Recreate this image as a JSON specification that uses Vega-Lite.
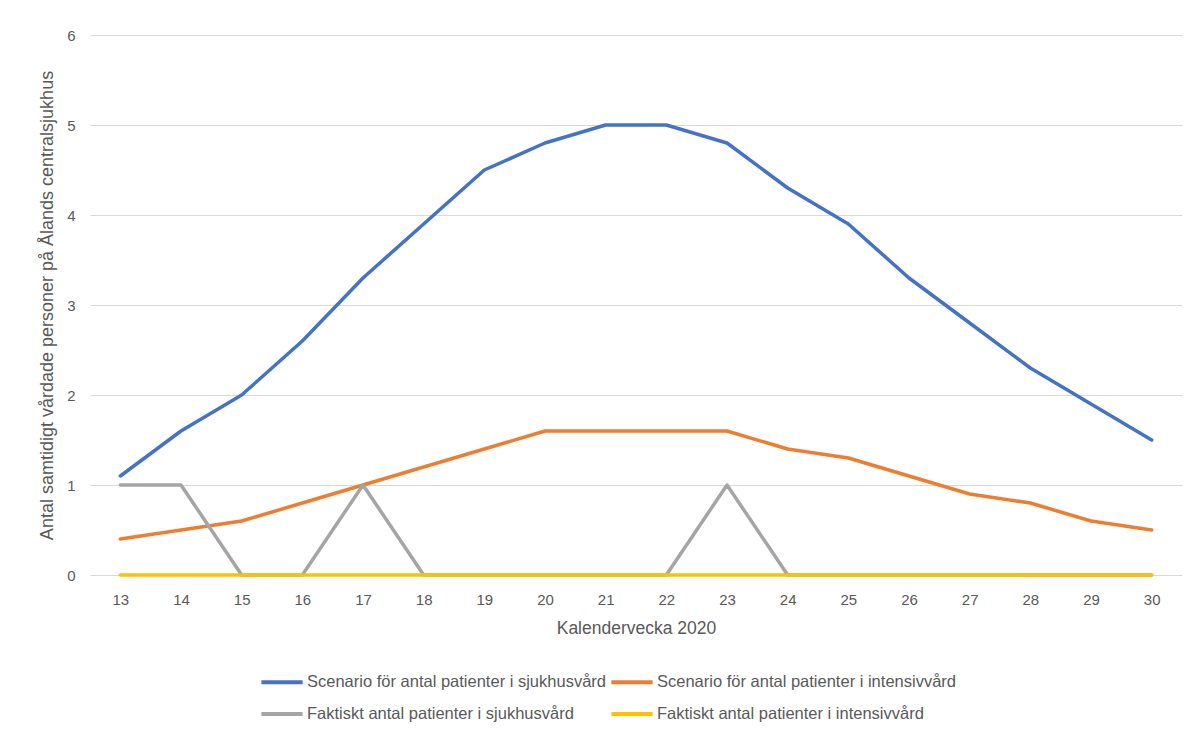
{
  "$schema": "https://vega.github.io/schema/vega-lite/v6.json",
  "width": 1092,
  "height": 540,
  "autosize": "none",
  "padding": {"left": 90, "top": 35, "right": 9, "bottom": 158},
  "background": "white",
  "config": {
    "font": "Liberation Sans",
    "view": {"stroke": null}
  },
  "data": {
    "values": [
      {"vecka": 13, "serie": "Scenario för antal patienter i sjukhusvård", "antal": 1.1},
      {"vecka": 14, "serie": "Scenario för antal patienter i sjukhusvård", "antal": 1.6},
      {"vecka": 15, "serie": "Scenario för antal patienter i sjukhusvård", "antal": 2.0},
      {"vecka": 16, "serie": "Scenario för antal patienter i sjukhusvård", "antal": 2.6},
      {"vecka": 17, "serie": "Scenario för antal patienter i sjukhusvård", "antal": 3.3},
      {"vecka": 18, "serie": "Scenario för antal patienter i sjukhusvård", "antal": 3.9},
      {"vecka": 19, "serie": "Scenario för antal patienter i sjukhusvård", "antal": 4.5},
      {"vecka": 20, "serie": "Scenario för antal patienter i sjukhusvård", "antal": 4.8},
      {"vecka": 21, "serie": "Scenario för antal patienter i sjukhusvård", "antal": 5.0},
      {"vecka": 22, "serie": "Scenario för antal patienter i sjukhusvård", "antal": 5.0},
      {"vecka": 23, "serie": "Scenario för antal patienter i sjukhusvård", "antal": 4.8},
      {"vecka": 24, "serie": "Scenario för antal patienter i sjukhusvård", "antal": 4.3},
      {"vecka": 25, "serie": "Scenario för antal patienter i sjukhusvård", "antal": 3.9},
      {"vecka": 26, "serie": "Scenario för antal patienter i sjukhusvård", "antal": 3.3},
      {"vecka": 27, "serie": "Scenario för antal patienter i sjukhusvård", "antal": 2.8},
      {"vecka": 28, "serie": "Scenario för antal patienter i sjukhusvård", "antal": 2.3},
      {"vecka": 29, "serie": "Scenario för antal patienter i sjukhusvård", "antal": 1.9},
      {"vecka": 30, "serie": "Scenario för antal patienter i sjukhusvård", "antal": 1.5},
      {"vecka": 13, "serie": "Scenario för antal patienter i intensivvård", "antal": 0.4},
      {"vecka": 14, "serie": "Scenario för antal patienter i intensivvård", "antal": 0.5},
      {"vecka": 15, "serie": "Scenario för antal patienter i intensivvård", "antal": 0.6},
      {"vecka": 16, "serie": "Scenario för antal patienter i intensivvård", "antal": 0.8},
      {"vecka": 17, "serie": "Scenario för antal patienter i intensivvård", "antal": 1.0},
      {"vecka": 18, "serie": "Scenario för antal patienter i intensivvård", "antal": 1.2},
      {"vecka": 19, "serie": "Scenario för antal patienter i intensivvård", "antal": 1.4},
      {"vecka": 20, "serie": "Scenario för antal patienter i intensivvård", "antal": 1.6},
      {"vecka": 21, "serie": "Scenario för antal patienter i intensivvård", "antal": 1.6},
      {"vecka": 22, "serie": "Scenario för antal patienter i intensivvård", "antal": 1.6},
      {"vecka": 23, "serie": "Scenario för antal patienter i intensivvård", "antal": 1.6},
      {"vecka": 24, "serie": "Scenario för antal patienter i intensivvård", "antal": 1.4},
      {"vecka": 25, "serie": "Scenario för antal patienter i intensivvård", "antal": 1.3},
      {"vecka": 26, "serie": "Scenario för antal patienter i intensivvård", "antal": 1.1},
      {"vecka": 27, "serie": "Scenario för antal patienter i intensivvård", "antal": 0.9},
      {"vecka": 28, "serie": "Scenario för antal patienter i intensivvård", "antal": 0.8},
      {"vecka": 29, "serie": "Scenario för antal patienter i intensivvård", "antal": 0.6},
      {"vecka": 30, "serie": "Scenario för antal patienter i intensivvård", "antal": 0.5},
      {"vecka": 13, "serie": "Faktiskt antal patienter i sjukhusvård", "antal": 1},
      {"vecka": 14, "serie": "Faktiskt antal patienter i sjukhusvård", "antal": 1},
      {"vecka": 15, "serie": "Faktiskt antal patienter i sjukhusvård", "antal": 0},
      {"vecka": 16, "serie": "Faktiskt antal patienter i sjukhusvård", "antal": 0},
      {"vecka": 17, "serie": "Faktiskt antal patienter i sjukhusvård", "antal": 1},
      {"vecka": 18, "serie": "Faktiskt antal patienter i sjukhusvård", "antal": 0},
      {"vecka": 19, "serie": "Faktiskt antal patienter i sjukhusvård", "antal": 0},
      {"vecka": 20, "serie": "Faktiskt antal patienter i sjukhusvård", "antal": 0},
      {"vecka": 21, "serie": "Faktiskt antal patienter i sjukhusvård", "antal": 0},
      {"vecka": 22, "serie": "Faktiskt antal patienter i sjukhusvård", "antal": 0},
      {"vecka": 23, "serie": "Faktiskt antal patienter i sjukhusvård", "antal": 1},
      {"vecka": 24, "serie": "Faktiskt antal patienter i sjukhusvård", "antal": 0},
      {"vecka": 25, "serie": "Faktiskt antal patienter i sjukhusvård", "antal": 0},
      {"vecka": 26, "serie": "Faktiskt antal patienter i sjukhusvård", "antal": 0},
      {"vecka": 27, "serie": "Faktiskt antal patienter i sjukhusvård", "antal": 0},
      {"vecka": 28, "serie": "Faktiskt antal patienter i sjukhusvård", "antal": 0},
      {"vecka": 29, "serie": "Faktiskt antal patienter i sjukhusvård", "antal": 0},
      {"vecka": 30, "serie": "Faktiskt antal patienter i sjukhusvård", "antal": 0},
      {"vecka": 13, "serie": "Faktiskt antal patienter i intensivvård", "antal": 0},
      {"vecka": 14, "serie": "Faktiskt antal patienter i intensivvård", "antal": 0},
      {"vecka": 15, "serie": "Faktiskt antal patienter i intensivvård", "antal": 0},
      {"vecka": 16, "serie": "Faktiskt antal patienter i intensivvård", "antal": 0},
      {"vecka": 17, "serie": "Faktiskt antal patienter i intensivvård", "antal": 0},
      {"vecka": 18, "serie": "Faktiskt antal patienter i intensivvård", "antal": 0},
      {"vecka": 19, "serie": "Faktiskt antal patienter i intensivvård", "antal": 0},
      {"vecka": 20, "serie": "Faktiskt antal patienter i intensivvård", "antal": 0},
      {"vecka": 21, "serie": "Faktiskt antal patienter i intensivvård", "antal": 0},
      {"vecka": 22, "serie": "Faktiskt antal patienter i intensivvård", "antal": 0},
      {"vecka": 23, "serie": "Faktiskt antal patienter i intensivvård", "antal": 0},
      {"vecka": 24, "serie": "Faktiskt antal patienter i intensivvård", "antal": 0},
      {"vecka": 25, "serie": "Faktiskt antal patienter i intensivvård", "antal": 0},
      {"vecka": 26, "serie": "Faktiskt antal patienter i intensivvård", "antal": 0},
      {"vecka": 27, "serie": "Faktiskt antal patienter i intensivvård", "antal": 0},
      {"vecka": 28, "serie": "Faktiskt antal patienter i intensivvård", "antal": 0},
      {"vecka": 29, "serie": "Faktiskt antal patienter i intensivvård", "antal": 0},
      {"vecka": 30, "serie": "Faktiskt antal patienter i intensivvård", "antal": 0}
    ]
  },
  "mark": {"type": "line", "strokeWidth": 3.5, "strokeCap": "round", "strokeJoin": "round"},
  "encoding": {
    "x": {
      "field": "vecka",
      "type": "ordinal",
      "scale": {"paddingInner": 0, "paddingOuter": 0.5},
      "axis": {
        "title": "Kalendervecka 2020",
        "titleFontSize": 17.5,
        "titleFontWeight": "normal",
        "titleColor": "#595959",
        "titlePadding": 12,
        "labelAngle": 0,
        "labelFontSize": 15,
        "labelColor": "#595959",
        "labelPadding": 17,
        "ticks": false,
        "domain": false,
        "grid": false
      }
    },
    "y": {
      "field": "antal",
      "type": "quantitative",
      "scale": {"domain": [0, 6], "nice": false},
      "axis": {
        "title": "Antal samtidigt vårdade personer på Ålands centralsjukhus",
        "titleFontSize": 18,
        "titleFontWeight": "normal",
        "titleColor": "#595959",
        "titlePadding": 10,
        "values": [0, 1, 2, 3, 4, 5, 6],
        "labelFontSize": 15,
        "labelColor": "#595959",
        "labelPadding": 15,
        "ticks": false,
        "domain": false,
        "grid": true,
        "gridColor": "#D9D9D9",
        "gridWidth": 1
      }
    },
    "color": {
      "field": "serie",
      "type": "nominal",
      "sort": null,
      "scale": {
        "domain": [
          "Scenario för antal patienter i sjukhusvård",
          "Scenario för antal patienter i intensivvård",
          "Faktiskt antal patienter i sjukhusvård",
          "Faktiskt antal patienter i intensivvård"
        ],
        "range": ["#4472C4", "#ED7D31", "#A5A5A5", "#FFC000"]
      },
      "legend": {
        "title": null,
        "orient": "none",
        "direction": "horizontal",
        "legendX": 169,
        "legendY": 624,
        "columns": 2,
        "columnPadding": -3,
        "rowPadding": -7,
        "symbolType": "stroke",
        "symbolSize": 1700,
        "symbolStrokeWidth": 4,
        "labelFontSize": 16.5,
        "labelColor": "#595959",
        "labelOffset": 2,
        "labelLimit": 400
      }
    }
  }
}
